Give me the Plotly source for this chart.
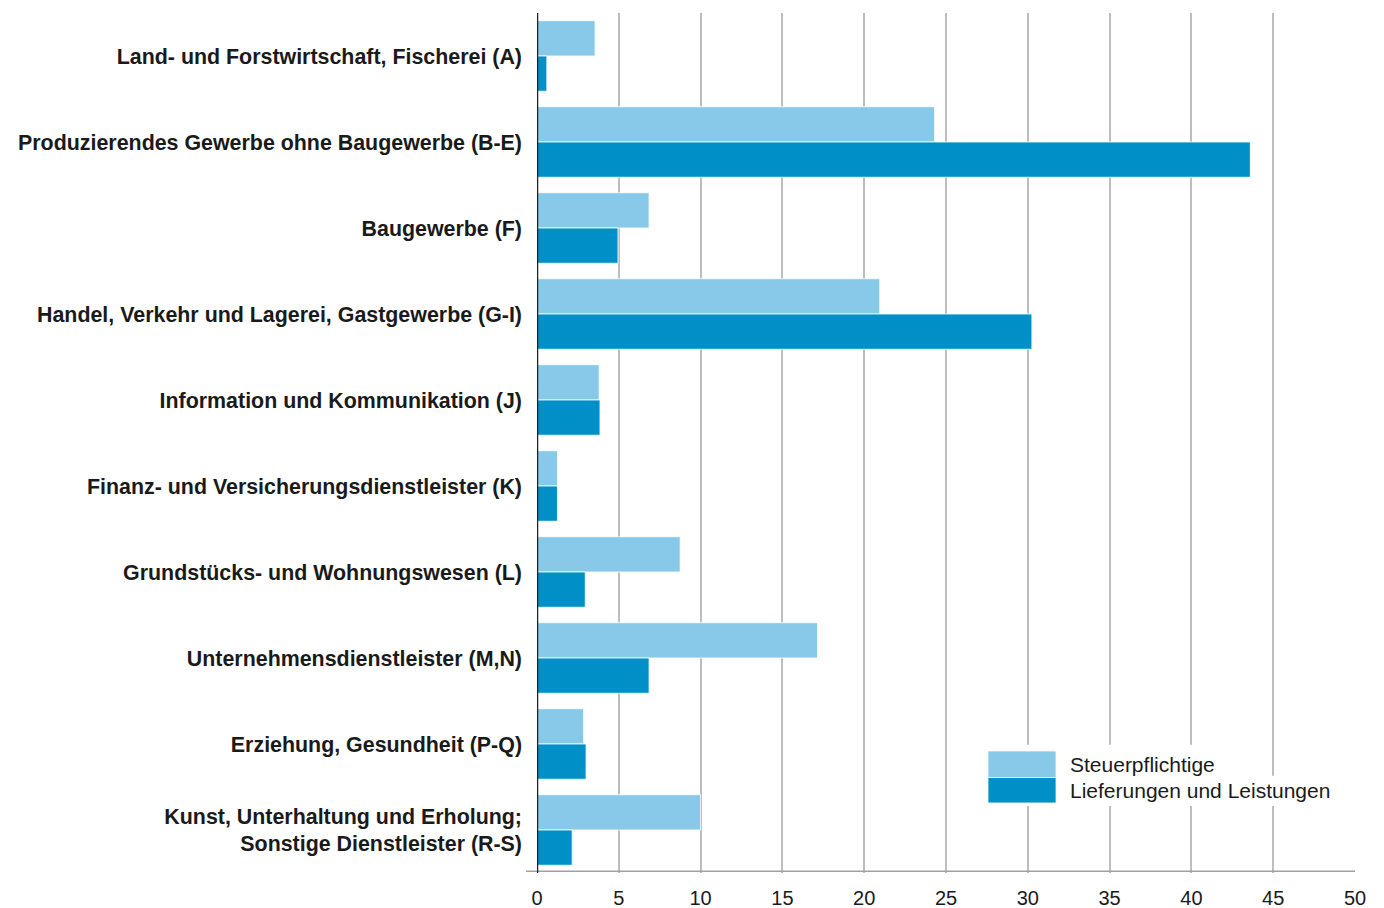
import plotly.graph_objects as go

categories = [
    "Land- und Forstwirtschaft, Fischerei (A)",
    "Produzierendes Gewerbe ohne Baugewerbe (B-E)",
    "Baugewerbe (F)",
    "Handel, Verkehr und Lagerei, Gastgewerbe (G-I)",
    "Information und Kommunikation (J)",
    "Finanz- und Versicherungsdienstleister (K)",
    "Grundstücks- und Wohnungswesen (L)",
    "Unternehmensdienstleister (M,N)",
    "Erziehung, Gesundheit (P-Q)",
    "Kunst, Unterhaltung und Erholung;<br>Sonstige Dienstleister (R-S)",
]
steuerpflichtige = [3.55, 24.3, 6.85, 20.95, 3.8, 1.25, 8.75, 17.15, 2.85, 10.0]
lieferungen = [0.6, 43.6, 4.95, 30.25, 3.85, 1.25, 2.95, 6.85, 3.0, 2.15]
series_names = ["Steuerpflichtige", "Lieferungen und Leistungen"]
colors = ["#88C8E8", "#0090C8"]
x_ticks = list(range(0, 51, 5))

FONT = "Liberation Sans, Arial, Helvetica, sans-serif"

fig = go.Figure()
for name, vals, col in zip(series_names, [steuerpflichtige, lieferungen], colors):
    fig.add_trace(go.Bar(
        y=categories, x=vals, name=name, orientation="h",
        marker=dict(color=col, line=dict(color="rgba(255,255,255,0.8)", width=1)),
        showlegend=False,
    ))

# page body has an 8px margin, so the figure starts at (8, 8)
fig.update_layout(
    width=1376, height=900,
    margin=dict(l=529, r=29, t=5, b=35, autoexpand=False),
    paper_bgcolor="white", plot_bgcolor="white",
    barmode="group", bargap=0.18, bargroupgap=0.0,
    font=dict(family=FONT, size=21, color="#1a1a1a"),
)
fig.update_xaxes(
    range=[0, 50], tickvals=x_ticks, ticktext=[str(v) for v in x_ticks],
    showgrid=True, gridcolor="#bdbdbd", gridwidth=1.5,
    zeroline=False, showline=False, ticks="", ticklabelstandoff=11,
    tickfont=dict(size=20, color="#1a1a1a", family=FONT),
)
fig.update_yaxes(
    autorange="reversed", showgrid=False, zeroline=False,
    showline=False, ticks="", ticklabelstandoff=14,
    tickfont=dict(size=21.4, color="#1a1a1a", family=FONT, weight="bold"),
)

# axis lines
fig.add_shape(type="line", xref="paper", yref="paper", x0=-0.0134, x1=1, y0=0.002, y1=0.002,
              line=dict(color="#a0a0a0", width=1.5))
fig.add_shape(type="line", xref="x", yref="paper", x0=0, x1=0, y0=0, y1=1,
              line=dict(color="#222222", width=2.5))

# white backing behind the legend (hides the gridlines there)
fig.add_shape(type="rect", xref="paper", yref="paper", x0=0.547, x1=0.894, y0=0.078, y1=0.149,
              fillcolor="white", line=dict(width=0))
fig.add_shape(type="rect", xref="paper", yref="paper", x0=0.894, x1=0.98, y0=0.078, y1=0.113,
              fillcolor="white", line=dict(width=0))

# legend drawn manually
leg_x0, leg_x1 = 0.5513, 0.6345
leg_rows = [(0.1419, 0.1110), (0.1110, 0.0814)]
for (ytop, ybot), name, col in zip(leg_rows, series_names, colors):
    fig.add_shape(type="rect", xref="paper", yref="paper", x0=leg_x0, x1=leg_x1, y0=ybot, y1=ytop,
                  fillcolor=col, line=dict(color="rgba(255,255,255,0.8)", width=1))
    fig.add_annotation(xref="paper", yref="paper", x=0.6495, y=(ytop + ybot) / 2,
                       text=name, showarrow=False, xanchor="left", yanchor="middle",
                       font=dict(size=21, color="#1a1a1a", family=FONT))

fig.write_html("out.html")
